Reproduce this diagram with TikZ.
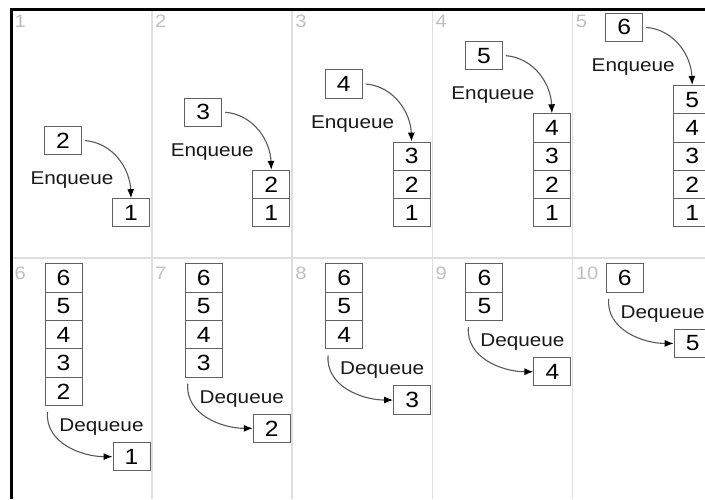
\documentclass[tikz,border=0pt]{standalone}
\usepackage{fontspec}
\setmainfont[FakeStretch=1.12]{Liberation Sans}
\usepackage{tikz}
\usetikzlibrary{arrows.meta}
\usetikzlibrary{positioning}

\begin{document}
\begin{tikzpicture}[x=1pt, y=1pt,
    cell/.style={draw=black!62, line width=1pt, minimum width=37pt, minimum height=28.3pt, inner sep=0pt, text=black, font=\fontsize{22}{22}\selectfont},
    oplabel/.style={inner sep=0pt, text=black!90, font=\fontsize{18.5}{18.5}\selectfont},
    panelnum/.style={anchor=north west, inner sep=0pt, text=black!25, font=\fontsize{18}{18}\selectfont},
    flow/.style={draw=black!65, line width=1.1pt, -{Latex[length=9pt,width=7pt,color=black]}},
    sep/.style={draw=black!13, line width=1.4pt}]
  \useasboundingbox (0,0) rectangle (705,499);
  \clip (0,0) rectangle (705,499);

  \foreach \x in {151.8,292.1,432.4,572.7}
    \draw[sep] (\x,0) -- (\x,488);
  \draw[sep] (12,241) -- (705,241);
  \draw[line width=3pt] (11.5,0) |- (705,489.2);

  % enqueue row
  \foreach \i in {1,...,5} {
    \pgfmathsetmacro{\xo}{11.5+140.3*(\i-1)}
    \pgfmathtruncatemacro{\nv}{\i+1}
    \node[panelnum] (top\i) at (\xo+3,484) {\i};
    \foreach \v in {1,...,\i}
      \node[cell] (s\i-\v) at ({\xo+119.5},{272+28.3*\v-14.15}) {\v};
    \node[cell, above left=43pt and 30pt of s\i-\i.north west] (in\i) {\nv};
    \node[oplabel] (enq\i) at ([xshift=9pt,yshift=-25pt]in\i.south) {Enqueue};
    \draw[flow] ([xshift=3pt]in\i.east) to[out=-5,in=92] (s\i-\i.north);
  }

  % dequeue row
  \foreach \j in {6,...,10} {
    \pgfmathsetmacro{\xo}{11.5+140.3*(\j-6)}
    \pgfmathtruncatemacro{\lastv}{\j-4}
    \pgfmathtruncatemacro{\gone}{\j-5}
    \node[panelnum] (bot\j) at (\xo+3,232) {\j};
    \foreach \v in {6,...,\lastv}
      \node[cell] (t\j-\v) at ({\xo+52},{235-28.3*(6-\v)-14.15}) {\v};
    \node[cell, below right=36pt and 30pt of t\j-\lastv.south east] (out\j) {\gone};
    \node[oplabel] (deq\j) at ([xshift=38pt,yshift=-21pt]t\j-\lastv.south) {Dequeue};
    \draw[flow] ([xshift=-16pt,yshift=-6pt]t\j-\lastv.south) to[out=-95,in=180] (out\j.west);
  }
\end{tikzpicture}
\end{document}
